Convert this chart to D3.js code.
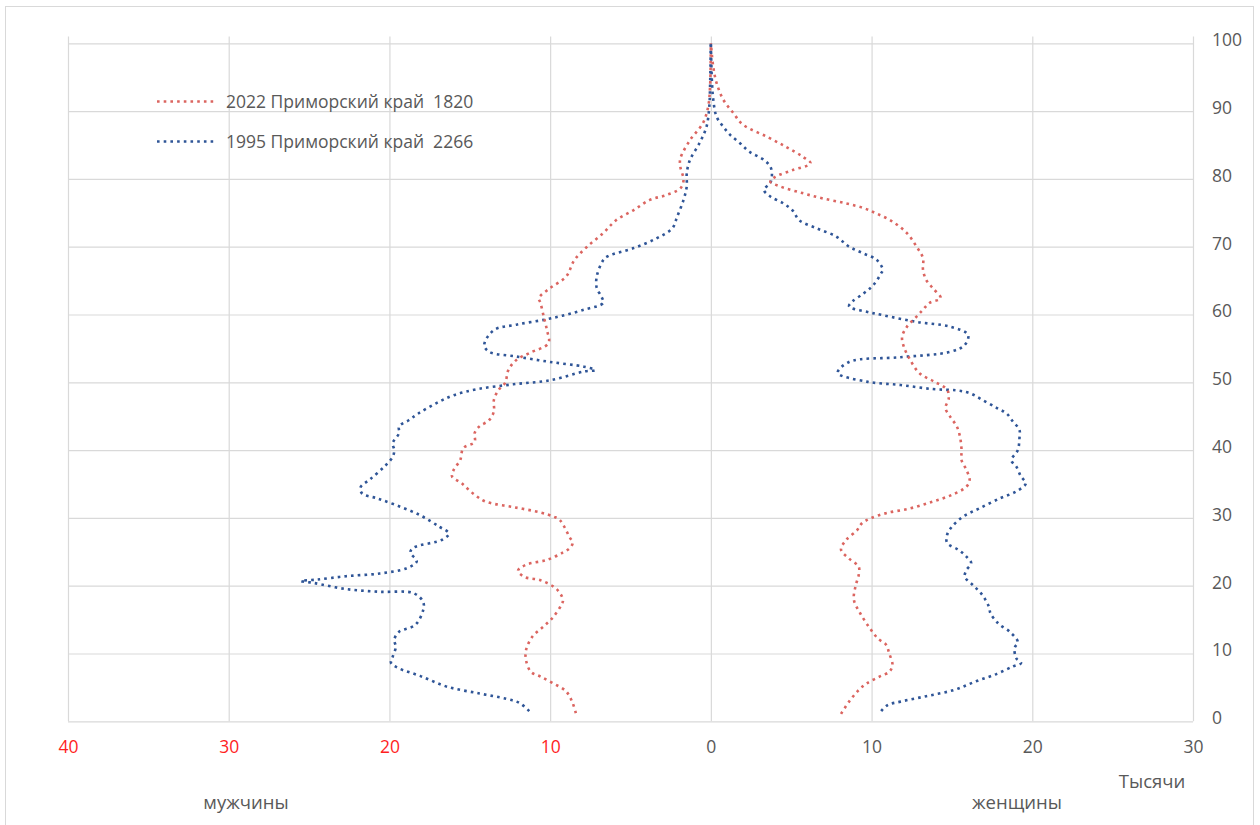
<!DOCTYPE html>
<html>
<head>
<meta charset="utf-8">
<script src="https://cdn.jsdelivr.net/npm/d3@7/dist/d3.min.js"></script>
<style>
  html, body { margin: 0; padding: 0; background: #ffffff; }
  svg { display: block; }
  text { font-family: "Open Sans", "Noto Sans", sans-serif; }
</style>
</head>
<body>
<svg id="chart" width="1260" height="825"></svg>
<script>
// ---------- DATA (thousands of people by age) ----------
const legendLabels = ["2022 Приморский край  1820", "1995 Приморский край  2266"];
const xTickValues = [-40, -30, -20, -10, 0, 10, 20, 30];
const yTickValues = [0, 10, 20, 30, 40, 50, 60, 70, 80, 90, 100];
const axisTitles = ["мужчины", "женщины", "Тысячи"];

// 2022, men (left side)
const ages2022M = [1.2,2.7,4.4,5.6,6.6,7.3,9.0,10.5,12.5,14.0,15.4,17.2,17.9,19.5,20.8,21.3,22.2,23.1,23.8,24.9,25.5,26.3,27.2,29.7,30.2,30.8,31.6,32.4,33.6,35.1,36.1,37.1,38.5,40.3,41.2,42.5,43.5,44.4,45.7,47.4,48.9,49.9,51.8,53.3,54.3,55.8,57.7,59.7,61.7,62.4,63.9,65.6,68.0,70.0,72.0,73.9,75.4,76.9,77.6,78.6,79.8,81.8,83.0,85.7,88.2,90.6,93.6,100];
const men2022 = [8.4,8.6,9.0,9.8,10.6,11.2,11.5,11.5,11.1,10.4,9.8,9.3,9.2,9.6,10.6,11.6,12.0,11.5,10.2,9.2,8.8,8.6,8.8,9.4,9.8,10.6,12.3,14.0,14.8,15.5,16.1,16.0,15.6,15.4,14.7,14.7,14.4,13.8,13.5,13.5,13.2,12.8,12.6,12.1,11.3,10.1,10.2,10.4,10.6,10.7,10.0,9.0,8.5,7.7,6.7,5.9,4.8,3.8,2.8,1.9,1.7,1.9,1.9,1.3,0.5,0.17,0.05,0];

// 2022, women (right side)
const ages2022W = [1.1,2.9,4.6,5.6,6.6,7.3,8.3,10.0,11.3,12.2,13.7,15.9,17.9,19.9,21.6,22.8,24.0,25.3,26.7,28.2,29.2,29.9,30.7,31.4,32.4,33.4,34.6,35.6,37.1,38.5,40.0,42.0,43.5,44.9,46.2,47.6,48.9,50.1,51.3,53.3,55.3,56.7,58.2,59.7,60.7,61.7,62.4,63.9,65.1,66.6,68.3,70.0,72.0,73.7,74.9,75.7,76.4,77.1,77.9,78.9,79.6,80.3,81.3,82.3,83.3,84.7,86.2,88.0,89.7,91.7,94.2,96.5,100];
const women2022 = [8.1,8.6,9.2,9.7,10.5,11.1,11.3,11.1,10.9,10.4,9.9,9.3,8.9,9.0,9.2,9.2,8.6,8.1,8.4,9.1,9.4,9.9,10.9,12.4,13.8,15.0,15.9,16.1,15.9,15.6,15.6,15.5,15.3,14.9,14.6,14.8,14.7,13.9,13.0,12.4,12.0,11.9,12.2,12.8,13.2,13.6,14.3,13.8,13.4,13.2,13.2,12.8,12.2,11.3,10.3,9.5,8.4,7.0,5.7,4.3,3.7,4.0,5.1,6.2,5.7,4.7,3.5,2.0,1.4,0.77,0.35,0.15,0];

// 1995, men (left side)
const ages1995M = [1.5,2.7,3.3,4.1,5.1,6.7,7.8,8.6,9.5,11.0,12.0,13.2,14.2,16.4,17.6,18.9,19.1,19.5,20.4,20.7,20.9,21.4,21.8,22.6,23.6,24.9,25.6,26.8,27.7,28.7,30.4,31.9,32.9,33.6,34.5,35.7,37.6,39.0,40.0,41.0,42.5,43.5,44.4,45.4,46.9,48.1,49.0,49.7,50.3,51.6,51.8,52.3,53.0,53.8,54.5,55.5,57.7,58.5,59.4,60.7,61.7,62.6,63.9,65.6,68.0,68.6,69.8,71.2,72.7,74.4,76.9,78.9,80.8,82.8,85.3,87.7,90.6,93.6,100];
const men1995 = [11.3,11.9,12.7,14.4,16.4,18.1,19.4,19.9,19.8,19.6,19.7,19.4,18.4,17.9,17.9,18.5,20.6,22.7,24.7,25.5,24.5,22.7,20.6,18.9,18.3,18.7,18.5,16.7,16.3,16.9,18.1,19.6,20.8,21.7,21.8,21.2,20.3,19.8,19.7,19.8,19.4,19.4,18.8,18.2,17.1,16.0,14.5,12.3,10.0,7.9,7.2,7.9,10.0,12.1,13.8,14.1,13.5,12.1,10.0,7.9,6.7,6.8,7.1,7.1,6.7,6.4,4.8,3.4,2.4,2.1,1.7,1.5,1.5,1.3,0.7,0.27,0.1,0.05,0];

// 1995, women (right side)
const ages1995W = [1.5,2.4,2.9,3.7,4.6,5.9,7.0,8.1,8.6,9.3,10.8,11.7,13.2,14.2,14.9,15.9,16.9,18.6,20.1,21.3,22.3,23.3,24.3,25.3,26.3,27.5,28.7,30.2,31.4,32.9,33.9,35.1,36.1,37.6,38.5,40.0,41.7,43.0,44.2,45.4,46.2,47.4,48.4,48.8,49.0,49.6,50.1,51.4,53.0,53.7,54.5,55.5,57.0,58.2,58.9,59.9,60.4,61.2,61.9,63.1,64.3,66.1,66.6,68.1,69.0,70.0,71.5,72.7,73.9,75.3,76.4,77.4,78.4,79.4,80.8,81.8,82.8,84.0,85.3,86.5,87.7,89.2,91.7,94.2,100];
const women1995 = [10.6,11.0,11.8,13.4,15.1,16.5,17.8,18.8,19.3,19.0,18.9,19.1,18.6,18.0,17.7,17.4,17.3,16.9,16.3,15.8,15.9,16.2,15.9,15.4,14.7,14.7,15.0,15.7,16.7,18.0,19.0,19.6,19.3,19.0,18.7,19.1,19.2,19.2,18.8,18.4,17.8,16.9,16.1,15.3,13.8,11.8,9.7,7.9,8.6,11.8,14.9,15.8,16.0,14.9,12.8,10.7,9.7,8.6,8.8,9.5,10.1,10.6,10.7,10.3,9.5,8.6,7.8,6.6,5.5,5.1,4.5,3.7,3.3,3.7,3.8,3.7,3.3,2.4,1.8,1.2,0.77,0.35,0.15,0.07,0];

// ---------- STYLES ----------
const C_RED = "#DB6560";
const C_BLUE = "#2F5597";
const C_GRID = "#D9D9D9";
const C_TEXT = "#595959";
const C_RED_TXT = "#FF1F1F";
const FS = 17.5;

const svg = d3.select("#chart");

// outer chart border
svg.append("rect").attr("x", 5.5).attr("y", 6.5).attr("width", 1248).attr("height", 830)
  .attr("fill", "none").attr("stroke", C_GRID).attr("stroke-width", 1);

const x = d3.scaleLinear().domain([-40, 30]).range([68, 1193]);
const y = d3.scaleLinear().domain([0, 101]).range([721.3, 36.5]);

// gridlines
const grid = svg.append("g");
grid.selectAll("line.v").data(xTickValues).join("line")
  .attr("x1", d => x(d) + 0.5).attr("x2", d => x(d) + 0.5)
  .attr("y1", y(101)).attr("y2", y(0))
  .attr("stroke", C_GRID).attr("stroke-width", 1.2);
grid.selectAll("line.h").data(yTickValues).join("line")
  .attr("x1", x(-40)).attr("x2", x(30))
  .attr("y1", d => y(d) + 0.5).attr("y2", d => y(d) + 0.5)
  .attr("stroke", C_GRID).attr("stroke-width", 1.2);

// x axis
const xAxis = svg.append("g").attr("transform", `translate(0,${y(0)})`)
  .call(d3.axisBottom(x).tickValues(xTickValues).tickSize(0).tickPadding(19.5)
    .tickFormat(d => String(Math.abs(d))));
xAxis.select(".domain").remove();
xAxis.selectAll("text").attr("font-size", FS)
  .attr("font-family", "'Open Sans', sans-serif")
  .attr("fill", d => d < 0 ? C_RED_TXT : C_TEXT);

// y axis (right)
const yAxis = svg.append("g").attr("transform", `translate(${x(30)},0)`)
  .call(d3.axisRight(y).tickValues(yTickValues).tickSize(0).tickPadding(19));
yAxis.select(".domain").remove();
yAxis.selectAll("text").attr("font-size", FS).attr("dy", "0.14em")
  .attr("font-family", "'Open Sans', sans-serif").attr("fill", C_TEXT);

// series
const line = d3.line().curve(d3.curveCatmullRom.alpha(0.5));
const series = [
  { ages: ages1995M, vals: men1995, sign: -1, color: C_BLUE },
  { ages: ages1995W, vals: women1995, sign: 1, color: C_BLUE },
  { ages: ages2022M, vals: men2022, sign: -1, color: C_RED },
  { ages: ages2022W, vals: women2022, sign: 1, color: C_RED }
];
svg.append("g").selectAll("path").data(series).join("path")
  .attr("d", s => line(s.ages.map((a, i) => [x(s.sign * s.vals[i]), y(a)])))
  .attr("fill", "none").attr("stroke", s => s.color)
  .attr("stroke-width", 2.6).attr("stroke-dasharray", "2.6 4.1");

// legend
const legend = svg.append("g");
const legColors = [C_RED, C_BLUE];
const legY = [101.5, 141.5];
legendLabels.forEach((t, i) => {
  legend.append("line").attr("x1", 157).attr("x2", 214).attr("y1", legY[i]).attr("y2", legY[i])
    .attr("stroke", legColors[i]).attr("stroke-width", 2.6).attr("stroke-dasharray", "2.6 4.1");
  legend.append("text").attr("x", 226).attr("y", legY[i] + 6.2)
    .attr("font-size", FS).attr("fill", C_TEXT).attr("xml:space", "preserve")
    .style("white-space", "pre").text(t);
});

// axis titles
svg.append("text").attr("x", 246).attr("y", 809).attr("text-anchor", "middle")
  .attr("font-size", 18.5).attr("fill", C_TEXT).text(axisTitles[0]);
svg.append("text").attr("x", 1017).attr("y", 809).attr("text-anchor", "middle")
  .attr("font-size", 18.5).attr("fill", C_TEXT).text(axisTitles[1]);
svg.append("text").attr("x", 1152).attr("y", 788).attr("text-anchor", "middle")
  .attr("font-size", 18.5).attr("fill", C_TEXT).text(axisTitles[2]);
</script>
</body>
</html>
